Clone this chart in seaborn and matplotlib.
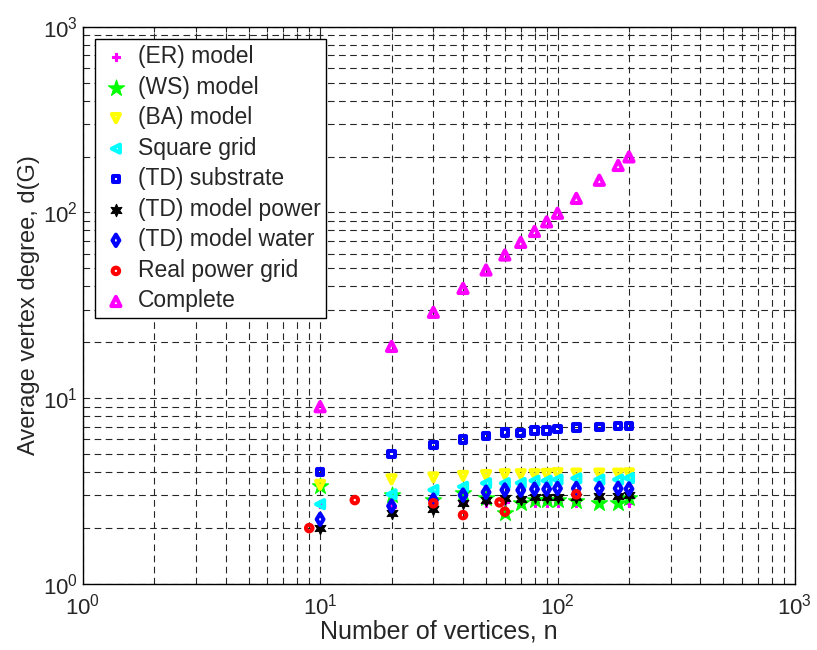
import numpy as np
import pandas as pd
import seaborn as sns
from matplotlib import pyplot as plt

# vertices (x) shared by most series
n_vals = [10, 20, 30, 40, 50, 60, 70, 80, 90, 100, 120, 150, 180, 200]

er_model = [2.7, 2.6, 2.7, 2.72, 2.72, 2.75, 2.74, 2.74, 2.74, 2.74, 2.74, 2.76, 2.76, 2.74]
ws_model = [3.35, 3.0, 2.85, 3.1, 2.9, 2.4, 2.74, 2.85, 2.85, 2.85, 2.8, 2.72, 2.74, 2.9]
ba_model = [3.42, 3.66, 3.75, 3.82, 3.86, 3.9, 3.9, 3.9, 3.92, 3.95, 3.93, 3.93, 3.93, 3.94]
square_grid = [2.69, 3.04, 3.21, 3.34, 3.49, 3.49, 3.5, 3.6, 3.6, 3.65, 3.71, 3.65, 3.65, 3.72]
td_substrate = [4.0, 5.0, 5.6, 6.0, 6.27, 6.53, 6.5, 6.72, 6.72, 6.83, 6.95, 7.0, 7.07, 7.1]
td_power = [2.0, 2.4, 2.53, 2.72, 2.85, 2.89, 2.87, 2.93, 2.93, 2.95, 2.95, 2.98, 2.98, 3.02]
td_water = [2.23, 2.63, 2.83, 3.01, 3.12, 3.21, 3.2, 3.24, 3.24, 3.27, 3.27, 3.27, 3.27, 3.25]
complete = [9, 19, 29, 39, 49, 59, 69, 79, 89, 99, 119, 149, 179, 199]

# real power grid has its own vertex counts
real_n = [9, 14, 30, 40, 57, 60, 120]
real_grid = [2.0, 2.83, 2.72, 2.35, 2.75, 2.45, 3.04]

labels = ['(ER) model', '(WS) model', '(BA) model', 'Square grid', '(TD) substrate',
          '(TD) model power', '(TD) model water', 'Real power grid', 'Complete']

sns.set_style('white')
plt.rcParams['font.family'] = ['Liberation Sans', 'DejaVu Sans']
plt.rcParams['mathtext.fontset'] = 'custom'
plt.rcParams['mathtext.rm'] = 'Liberation Sans'

fig = plt.figure(figsize=(8.17, 6.5), dpi=100)
ax = fig.add_axes([0.1012, 0.1015, 0.8718, 0.8575])

# (label, x, y, marker, color, size, hollow)
series = [
    (labels[0], n_vals, er_model, 'P', '#ff00ff', 30, False),
    (labels[1], n_vals, ws_model, '*', '#00ff00', 150, False),
    (labels[2], n_vals, ba_model, 'v', '#ffff00', 34, True),
    (labels[3], n_vals, square_grid, '<', '#00ffff', 34, True),
    (labels[4], n_vals, td_substrate, 's', '#0000ff', 22, True),
    (labels[5], n_vals, td_power, (6, 1, 0), 'black', 80, False),
    (labels[6], n_vals, td_water, 'd', '#0000ff', 34, True),
    (labels[7], real_n, real_grid, 'o', '#ff0000', 22, True),
    (labels[8], n_vals, complete, '^', '#ff00ff', 44, True),
]

for lab, xs, ys, mk, col, sz, hollow in series:
    df = pd.DataFrame({'n': xs, 'd': ys})
    if hollow:
        sns.scatterplot(data=df, x='n', y='d', marker=mk, s=sz, ax=ax, label=lab,
                        facecolor='none', edgecolor=col, linewidth=2.9, legend=False)
    else:
        sns.scatterplot(data=df, x='n', y='d', marker=mk, s=sz, ax=ax, label=lab,
                        color=col, edgecolor=col, linewidth=0.8, legend=False)

ax.set_xscale('log')
ax.set_yscale('log')
ax.set_xlim(1, 1000)
ax.set_ylim(1, 1000)

ax.grid(True, which='both', linestyle=(0, (6, 4)), color='0.15', linewidth=0.8)
ax.set_axisbelow(True)
ax.tick_params(which='both', direction='in', top=True, right=True, labelsize=16)
ax.tick_params(axis='x', which='both', pad=7)
ax.tick_params(which='major', length=6, width=0.8)
ax.tick_params(which='minor', length=3.5, width=0.8)
for sp in ax.spines.values():
    sp.set_color('black')
    sp.set_linewidth(1.0)

ax.set_xlabel('Number of vertices, n', fontsize=18, labelpad=0)
ax.set_ylabel('Average vertex degree, d(G)', fontsize=17, labelpad=2)

leg = ax.legend(loc='upper left', fontsize=16.5, frameon=True, fancybox=False,
                borderaxespad=0.55, handletextpad=0.3, labelspacing=0.33,
                handlelength=1.3, borderpad=0.25)
leg.get_frame().set_edgecolor('black')
leg.get_frame().set_linewidth(1.0)
leg.get_frame().set_alpha(1)

fig.savefig('out.png', dpi=100)
